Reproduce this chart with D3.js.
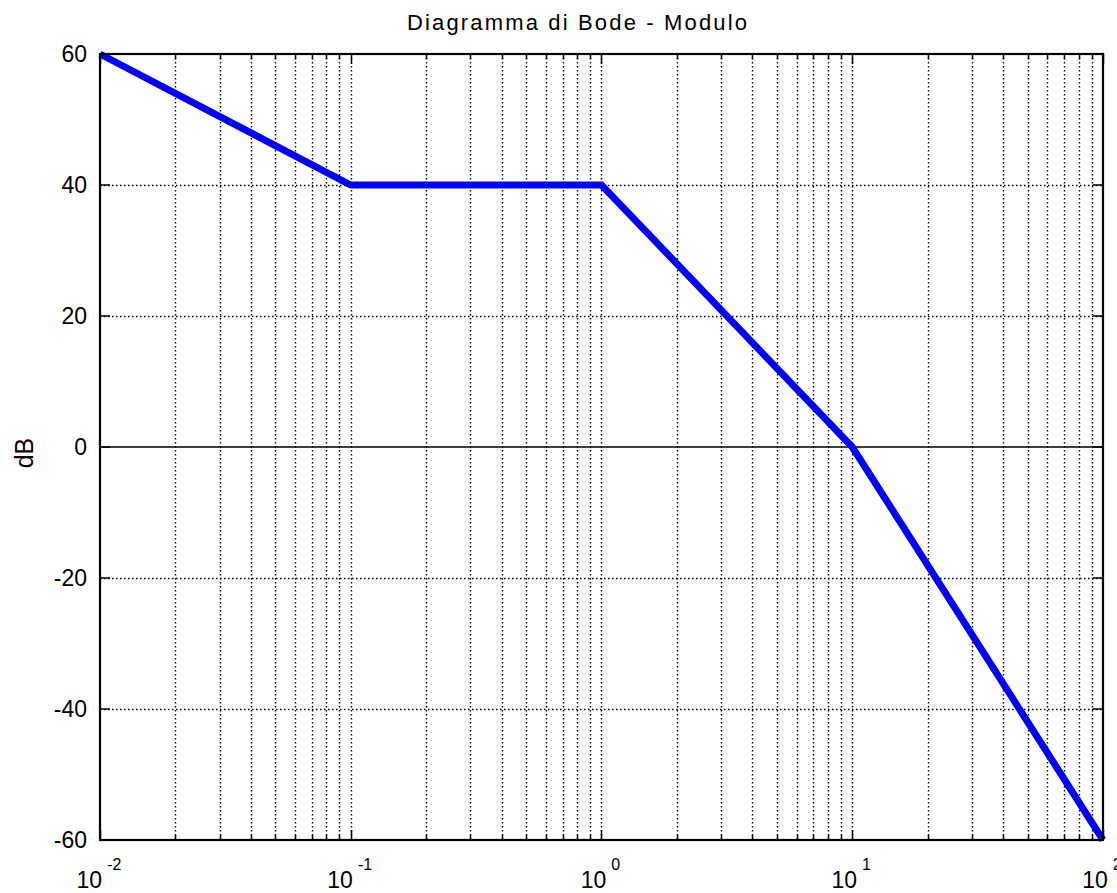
<!DOCTYPE html>
<html><head><meta charset="utf-8">
<script src="https://cdn.jsdelivr.net/npm/d3@7"></script>
<style>body{margin:0;background:#fff;} text{font-family:"Liberation Sans",Arial,sans-serif;fill:#000;}</style>
</head><body>
<svg id="c" width="1117" height="893"></svg>
<script>
const freq = [0.01, 0.1, 1, 10, 100];
const magDb = [60, 40, 40, 0, -60];
const yTicks = [-60, -40, -20, 0, 20, 40, 60];
const xDecades = [-2, -1, 0, 1, 2];
const titleText = "Diagramma di Bode - Modulo";
const yLabel = "dB";

const m = {l:100, r:1103, t:54, b:840};
const svg = d3.select("#c");
const x = d3.scaleLog().domain([0.01,100]).range([m.l,m.r]);
const y = d3.scaleLinear().domain([-60,60]).range([m.b,m.t]);

const minor = [];
for (let d=-2; d<2; d++) for (let k=2;k<=9;k++) minor.push(k*Math.pow(10,d));
const majors = xDecades.map(e=>Math.pow(10,e));
const px = v => Math.round(x(v)) + 0.5;

const g = svg.append("g");
g.selectAll(".vg").data(minor.concat(majors.slice(1,-1))).enter().append("line")
 .attr("x1",d=>px(d)).attr("x2",d=>px(d)).attr("y1",m.t).attr("y2",m.b)
 .attr("stroke","#000").attr("stroke-width",1.4).attr("stroke-dasharray","1.5,2.5");
g.selectAll(".hg").data(yTicks.filter(v=>v!==-60&&v!==60&&v!==0)).enter().append("line")
 .attr("x1",m.l).attr("x2",m.r).attr("y1",d=>Math.round(y(d))+0.5).attr("y2",d=>Math.round(y(d))+0.5)
 .attr("stroke","#000").attr("stroke-width",1.4).attr("stroke-dasharray","1.5,2.5");
g.append("line").attr("x1",m.l).attr("x2",m.r).attr("y1",y(0)).attr("y2",y(0))
 .attr("stroke","#000").attr("stroke-width",1.5);

const tk = svg.append("g").attr("stroke","#000").attr("stroke-width",1.5);
yTicks.forEach(v=>{
  tk.append("line").attr("x1",m.l).attr("x2",m.l+10).attr("y1",y(v)).attr("y2",y(v));
  tk.append("line").attr("x1",m.r).attr("x2",m.r-10).attr("y1",y(v)).attr("y2",y(v));
});
majors.forEach(v=>{
  tk.append("line").attr("x1",px(v)).attr("x2",px(v)).attr("y1",m.b).attr("y2",m.b-10);
  tk.append("line").attr("x1",px(v)).attr("x2",px(v)).attr("y1",m.t).attr("y2",m.t+10);
});
minor.forEach(v=>{
  tk.append("line").attr("x1",px(v)).attr("x2",px(v)).attr("y1",m.b).attr("y2",m.b-5);
  tk.append("line").attr("x1",px(v)).attr("x2",px(v)).attr("y1",m.t).attr("y2",m.t+5);
});

const line = d3.line().x((d,i)=>x(freq[i])).y((d,i)=>y(magDb[i]));
svg.append("path").datum(magDb).attr("d",line).attr("fill","none")
 .attr("stroke","#0000ff").attr("stroke-width",7).attr("stroke-linejoin","miter");

svg.append("rect").attr("x",m.l).attr("y",m.t).attr("width",m.r-m.l).attr("height",m.b-m.t)
 .attr("fill","none").attr("stroke","#000").attr("stroke-width",2.2);

svg.selectAll(".yl").data(yTicks).enter().append("text")
 .attr("x",87).attr("y",d=>y(d)+8).attr("text-anchor","end").attr("font-size",23).text(d=>d);

xDecades.forEach(e=>{
  const t = svg.append("text").attr("x",x(Math.pow(10,e))-1).attr("y",888).attr("text-anchor","middle").attr("font-size",23);
  t.append("tspan").text("10");
  t.append("tspan").attr("dy",-18).attr("dx",5).attr("font-size",16).text(e);
});

svg.append("text").attr("x",407).attr("y",30).attr("font-size",22)
 .attr("textLength",340).attr("lengthAdjust","spacing").text(titleText);
svg.append("text").attr("transform","translate(33,453) rotate(-90)").attr("text-anchor","middle").attr("font-size",25).text(yLabel);
</script>
</body></html>
